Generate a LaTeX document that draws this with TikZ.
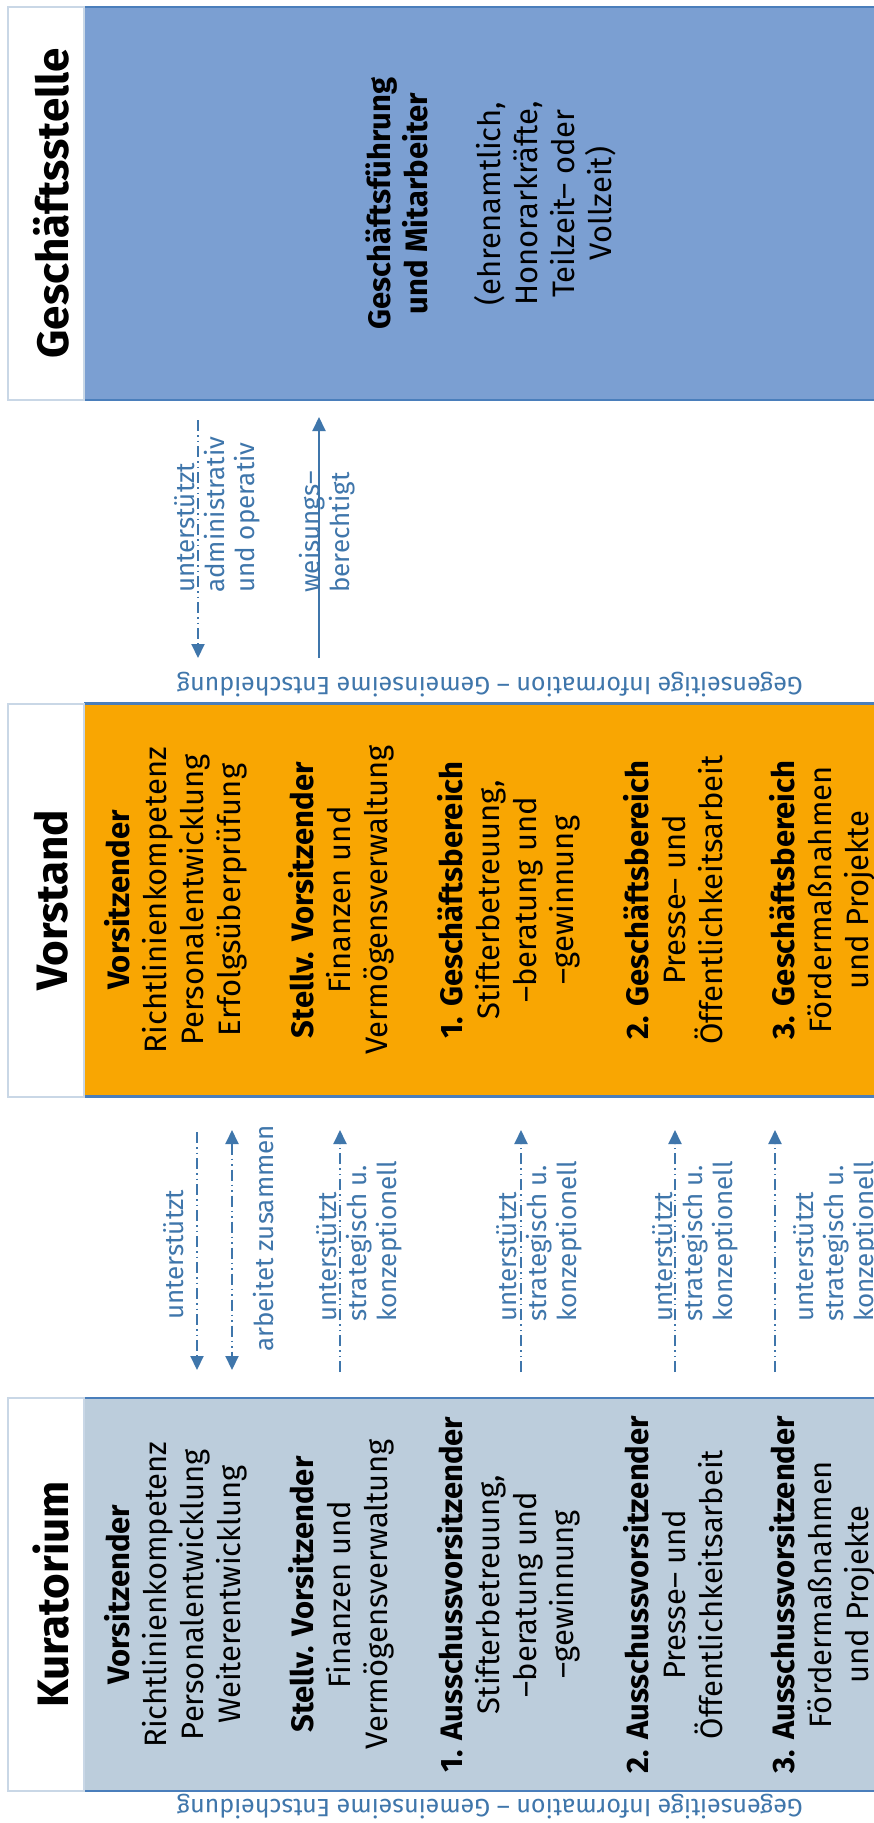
\documentclass[tikz,border=0pt]{standalone}
\usepackage{fontspec}
\setmainfont{Fira Sans}
\usetikzlibrary{arrows.meta}
\definecolor{gsblue}{HTML}{7B9FD2}
\definecolor{vorange}{HTML}{F9A602}
\definecolor{kgray}{HTML}{BCCDDC}
\definecolor{edgeblue}{HTML}{4A7EBB}
\definecolor{titleedge}{HTML}{C9D7E6}
\definecolor{lblue}{HTML}{3F76AB}
\tikzset{
  band/.style={minimum width=790pt, minimum height=393pt, inner sep=0pt, outer sep=0pt},
  bandedge/.style={draw=edgeblue, line width=2.5pt},
  tbox/.style={draw=titleedge, line width=2pt, fill=white, minimum width=76pt, minimum height=393pt, inner sep=0pt, outer sep=0pt},
  titletext/.style={rotate=90, inner sep=0pt, font=\fontsize{44}{50}\selectfont\bfseries},
  content/.style={rotate=90, align=center, inner sep=0pt, text=black, font=\fontsize{31}{37}\selectfont},
  lbl/.style={rotate=90, align=left, anchor=west, inner sep=0pt, text=lblue, font=\fontsize{26}{30}\selectfont},
  infotext/.style={rotate=180, inner sep=0pt, text=lblue, font=\fontsize{25}{30}\selectfont},
  link/.style={draw=lblue, line width=2pt},
  dashlink/.style={link, dash pattern=on 11pt off 4pt on 1.5pt off 4pt on 1.5pt off 4pt},
  tip/.style={-{Triangle[length=14pt,width=13pt]}},
  tips/.style={{Triangle[length=14pt,width=13pt]}-{Triangle[length=14pt,width=13pt]}}
}
\begin{document}
\begin{tikzpicture}[x=1pt,y=-1pt]
\useasboundingbox (0,0) rectangle (874,1823);
\fill[white] (0,0) rectangle (874,1823);

% ---------- Geschaeftsstelle ----------
\node[band, fill=gsblue] (gsb) at (479,203.5) {};
\draw[bandedge] (gsb.north west) -- (gsb.north east);
\draw[bandedge] (gsb.south west) -- (gsb.south east);
\node[tbox] (gst) at (46,203.5) {};
\node[titletext] (gsn) at (51,203.5) {Geschäftsstelle};
\node[content] (g1) at (397,203.5) {\textbf{Geschäftsführung}\\\textbf{und Mitarbeiter}};
\node[content] (g2) at (545,203.5) {(ehrenamtlich,\\Honorarkräfte,\\Teilzeit– oder\\Vollzeit)};

% ---------- Vorstand ----------
\node[band, fill=vorange] (vsb) at (479,900) {};
\draw[bandedge] (vsb.north west) -- (vsb.north east);
\draw[bandedge] (vsb.south west) -- (vsb.south east);
\node[tbox] (vst) at (46,900) {};
\node[titletext] (vsn) at (51,900) {Vorstand};
\node[content] (v1) at (176,900) {\textbf{Vorsitzender}\\Richtlinienkompetenz\\Personalentwicklung\\Erfolgsüberprüfung};
\node[content] (v2) at (341,900) {\textbf{Stellv. Vorsitzender}\\Finanzen und\\Vermögensverwaltung};
\node[content] (v3) at (509,900) {\textbf{1. Geschäftsbereich}\\Stifterbetreuung,\\–beratung und\\–gewinnung};
\node[content] (v4) at (673,900) {\textbf{2. Geschäftsbereich}\\Presse– und\\Öffentlichkeitsarbeit};
\node[content] (v5) at (822,900) {\textbf{3. Geschäftsbereich}\\Fördermaßnahmen\\und Projekte};

% ---------- Kuratorium ----------
\node[band, fill=kgray] (kub) at (479,1594.5) {};
\draw[bandedge] (kub.north west) -- (kub.north east);
\draw[bandedge] (kub.south west) -- (kub.south east);
\node[tbox] (kut) at (46,1594.5) {};
\node[titletext] (kun) at (51,1594.5) {Kuratorium};
\node[content] (k1) at (176,1594.5) {\textbf{Vorsitzender}\\Richtlinienkompetenz\\Personalentwicklung\\Weiterentwicklung};
\node[content] (k2) at (341,1594.5) {\textbf{Stellv. Vorsitzender}\\Finanzen und\\Vermögensverwaltung};
\node[content] (k3) at (509,1594.5) {\textbf{1. Ausschussvorsitzender}\\Stifterbetreuung,\\–beratung und\\–gewinnung};
\node[content] (k4) at (673,1594.5) {\textbf{2. Ausschussvorsitzender}\\Presse– und\\Öffentlichkeitsarbeit};
\node[content] (k5) at (822,1594.5) {\textbf{3. Ausschussvorsitzender}\\Fördermaßnahmen\\und Projekte};

% ---------- info lines ----------
\node[infotext] (info1) at (490,685) {Gegenseitige Information – Gemeinseime Entscheidung};
\node[infotext] (info2) at (490,1807) {Gegenseitige Information – Gemeinseime Entscheidung};

% ---------- connectors Geschaeftsstelle / Vorstand ----------
\coordinate (a1t) at (198,420);  \coordinate (a1b) at (198,658);
\coordinate (a2t) at (319,417);  \coordinate (a2b) at (319,658);
\draw[dashlink, tip] (a1t) -- (a1b);
\draw[link, tip] (a2b) -- (a2t);
\node[lbl] (la1) at (217,593) {unterstützt\\administrativ\\und operativ};
\node[lbl] (la2) at (327,593) {weisungs–\\berechtigt};

% ---------- connectors Vorstand / Kuratorium ----------
\coordinate (b1t) at (197,1132); \coordinate (b1b) at (197,1370);
\coordinate (b2t) at (232,1130); \coordinate (b2b) at (232,1370);
\coordinate (b3t) at (340,1130); \coordinate (b3b) at (340,1372);
\coordinate (b4t) at (521,1130); \coordinate (b4b) at (521,1372);
\coordinate (b5t) at (675,1130); \coordinate (b5b) at (675,1372);
\coordinate (b6t) at (775,1130); \coordinate (b6b) at (775,1372);
\draw[dashlink, tip] (b1t) -- (b1b);
\draw[dashlink, tips] (b2t) -- (b2b);
\draw[dashlink, tip] (b3b) -- (b3t);
\draw[dashlink, tip] (b4b) -- (b4t);
\draw[dashlink, tip] (b5b) -- (b5t);
\draw[dashlink, tip] (b6b) -- (b6t);
\node[lbl] (lb1) at (174,1320) {unterstützt};
\node[lbl] (lb2) at (264,1352) {arbeitet zusammen};
\node[lbl] (lb3) at (359,1322) {unterstützt\\strategisch u.\\konzeptionell};
\node[lbl] (lb4) at (539,1322) {unterstützt\\strategisch u.\\konzeptionell};
\node[lbl] (lb5) at (695,1322) {unterstützt\\strategisch u.\\konzeptionell};
\node[lbl] (lb6) at (836,1322) {unterstützt\\strategisch u.\\konzeptionell};
\end{tikzpicture}
\end{document}
